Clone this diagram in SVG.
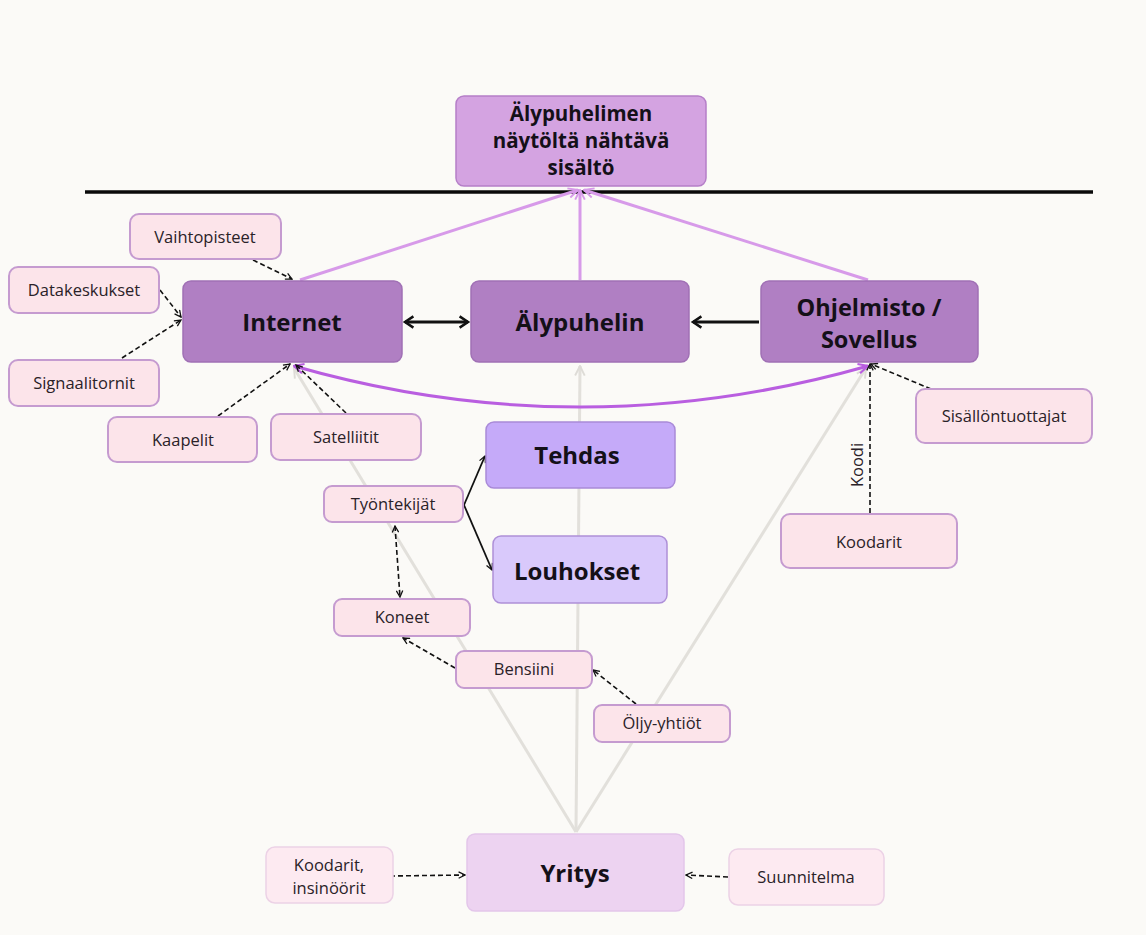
<svg xmlns="http://www.w3.org/2000/svg" width="1146" height="935" viewBox="0 0 1146 935">
<defs>
<style>
.bg{fill:#fbfaf7}
.main{fill:#b07fc3;stroke:#a070b5;stroke-width:1.5}
.small{fill:#fce4ea;stroke:#c59bd0;stroke-width:2}
.big{font-family:"Open Sans","DejaVu Sans",sans-serif;font-weight:700;fill:#141018;text-anchor:middle}
.lbl{font-family:"Open Sans","DejaVu Sans",sans-serif;font-size:16.5px;fill:#2a2228;text-anchor:middle}
.dash{fill:none;stroke:#111;stroke-width:1.6;stroke-dasharray:5,3}
.gray{fill:none;stroke:#e2e0db;stroke-width:3}
.lp{fill:none;stroke:#d79ae9;stroke-width:3}
</style>
<marker id="ad" viewBox="0 0 10 10" refX="9" refY="5" markerWidth="8" markerHeight="8" orient="auto-start-reverse" markerUnits="userSpaceOnUse"><path d="M1,1 L9,5 L1,9" fill="none" stroke="#111" stroke-width="1.6"/></marker>
<marker id="ab" viewBox="0 0 10 10" refX="8" refY="5" markerWidth="14" markerHeight="14" orient="auto-start-reverse" markerUnits="userSpaceOnUse"><path d="M2,1 L8,5 L2,9" fill="none" stroke="#111" stroke-width="1.8"/></marker>
<marker id="ag" viewBox="0 0 10 10" refX="9" refY="5" markerWidth="12" markerHeight="12" orient="auto" markerUnits="userSpaceOnUse"><path d="M1,1 L9,5 L1,9" fill="none" stroke="#dedcd7" stroke-width="1.6"/></marker>
<marker id="ap" viewBox="0 0 10 10" refX="9" refY="5" markerWidth="12" markerHeight="12" orient="auto" markerUnits="userSpaceOnUse"><path d="M1,1 L9,5 L1,9" fill="none" stroke="#d79ae9" stroke-width="1.6"/></marker>
<marker id="ac" viewBox="0 0 10 10" refX="9" refY="5" markerWidth="12" markerHeight="12" orient="auto-start-reverse" markerUnits="userSpaceOnUse"><path d="M1,1 L9,5 L1,9" fill="none" stroke="#b95ee0" stroke-width="1.8"/></marker>
</defs>
<rect class="bg" x="0" y="0" width="1146" height="935"/>
<line x1="85" y1="192" x2="1093" y2="192" stroke="#0a0a0a" stroke-width="3.5"/>

<g id="connectors">
<line class="gray" x1="576" y1="832" x2="294" y2="368" marker-end="url(#ag)"/>
<line class="gray" x1="576" y1="832" x2="580" y2="366" marker-end="url(#ag)"/>
<line class="gray" x1="576" y1="832" x2="866" y2="368" marker-end="url(#ag)"/>
<line class="lp" x1="300" y1="280" x2="578" y2="190" marker-end="url(#ap)"/>
<line class="lp" x1="580" y1="280" x2="580" y2="190" marker-end="url(#ap)"/>
<line class="lp" x1="868" y1="280" x2="584" y2="190" marker-end="url(#ap)"/>
<path d="M294,366 Q580,448 868,366" fill="none" stroke="#b95ee0" stroke-width="3" marker-start="url(#ac)" marker-end="url(#ac)"/>
<line x1="405" y1="322" x2="468" y2="322" stroke="#111" stroke-width="3" marker-start="url(#ab)" marker-end="url(#ab)"/>
<line x1="759" y1="322" x2="693" y2="322" stroke="#111" stroke-width="3" marker-end="url(#ab)"/>
<line class="dash" x1="253" y1="260" x2="292" y2="279" marker-end="url(#ad)"/>
<line class="dash" x1="160" y1="290" x2="181" y2="317" marker-end="url(#ad)"/>
<line class="dash" x1="122" y1="358" x2="181" y2="320" marker-end="url(#ad)"/>
<line class="dash" x1="218" y1="416" x2="290" y2="364" marker-end="url(#ad)"/>
<line class="dash" x1="346" y1="413" x2="296" y2="365" marker-end="url(#ad)"/>
<line class="dash" x1="931" y1="389" x2="871" y2="364" marker-end="url(#ad)"/>
<line class="dash" x1="870" y1="513" x2="870" y2="364" marker-end="url(#ad)"/>
<text class="lbl" transform="translate(863,465) rotate(-90)" font-size="15">Koodi</text>
<path d="M464,505 L485,456" fill="none" stroke="#111" stroke-width="1.8" marker-end="url(#ad)"/>
<path d="M464,505 L492,570" fill="none" stroke="#111" stroke-width="1.8" marker-end="url(#ad)"/>
<line class="dash" x1="395" y1="526" x2="400" y2="597" marker-start="url(#ad)" marker-end="url(#ad)"/>
<line class="dash" x1="455" y1="668" x2="403" y2="638" marker-end="url(#ad)"/>
<line class="dash" x1="636" y1="704" x2="593" y2="670" marker-end="url(#ad)"/>
<line class="dash" x1="390" y1="876" x2="465" y2="875" marker-end="url(#ad)"/>
<line class="dash" x1="728" y1="877" x2="686" y2="875" marker-end="url(#ad)"/>
</g>

<g id="n-top"><rect x="456" y="96" width="250" height="90" rx="8" fill="#d4a3e1" stroke="#b57fc8" stroke-width="1.5"/>
<text class="big" x="581" y="121" font-size="20.5">Älypuhelimen</text><text class="big" x="581" y="148" font-size="20.5">näytöltä nähtävä</text><text class="big" x="581" y="175" font-size="20.5">sisältö</text></g>
<g id="n-internet"><rect class="main" x="183" y="281" width="219" height="81" rx="8"/><text class="big" x="292" y="331" font-size="24">Internet</text></g>
<g id="n-alypuhelin"><rect class="main" x="471" y="281" width="218" height="81" rx="8"/><text class="big" x="580" y="331" font-size="24">Älypuhelin</text></g>
<g id="n-ohjelmisto"><rect class="main" x="761" y="281" width="217" height="81" rx="8"/><text class="big" x="869" y="316" font-size="23.5">Ohjelmisto /</text><text class="big" x="869" y="348" font-size="23.5">Sovellus</text></g>
<g id="n-vaihtopisteet"><rect class="small" x="130" y="214" width="151" height="45" rx="9"/><text class="lbl" x="205" y="243">Vaihtopisteet</text></g>
<g id="n-datakeskukset"><rect class="small" x="9" y="267" width="150" height="46" rx="9"/><text class="lbl" x="84" y="296">Datakeskukset</text></g>
<g id="n-signaalitornit"><rect class="small" x="9" y="360" width="150" height="46" rx="9"/><text class="lbl" x="84" y="389">Signaalitornit</text></g>
<g id="n-kaapelit"><rect class="small" x="108" y="417" width="149" height="45" rx="9"/><text class="lbl" x="183" y="446">Kaapelit</text></g>
<g id="n-satelliitit"><rect class="small" x="271" y="414" width="150" height="46" rx="9"/><text class="lbl" x="346" y="443">Satelliitit</text></g>
<g id="n-tehdas"><rect x="486" y="422" width="189" height="66" rx="8" fill="#c5aaf9" stroke="#a98ad8" stroke-width="1.5"/><text class="big" x="577" y="464" font-size="24">Tehdas</text></g>
<g id="n-louhokset"><rect x="493" y="536" width="174" height="67" rx="8" fill="#d9c9fb" stroke="#ae90d8" stroke-width="1.5"/><text class="big" x="577" y="580" font-size="24">Louhokset</text></g>
<g id="n-tyontekijat"><rect class="small" x="324" y="486" width="139" height="36" rx="8"/><text class="lbl" x="393" y="510">Työntekijät</text></g>
<g id="n-koneet"><rect class="small" x="334" y="599" width="136" height="37" rx="8"/><text class="lbl" x="402" y="623">Koneet</text></g>
<g id="n-bensiini"><rect class="small" x="456" y="651" width="136" height="37" rx="8"/><text class="lbl" x="524" y="675">Bensiini</text></g>
<g id="n-oljy"><rect class="small" x="594" y="705" width="136" height="37" rx="8"/><text class="lbl" x="662" y="729">Öljy-yhtiöt</text></g>
<g id="n-sisallontuottajat"><rect class="small" x="916" y="389" width="176" height="54" rx="9"/><text class="lbl" x="1004" y="422">Sisällöntuottajat</text></g>
<g id="n-koodarit"><rect class="small" x="781" y="514" width="176" height="54" rx="9"/><text class="lbl" x="869" y="548">Koodarit</text></g>
<g id="n-yritys"><rect x="467" y="834" width="217" height="77" rx="8" fill="#edd3f1" stroke="#e3c6ea" stroke-width="1.5"/><text class="big" x="575" y="882" font-size="24">Yritys</text></g>
<g id="n-koodarit-insinoorit"><rect x="266" y="847" width="127" height="56" rx="9" fill="#fdeaf1" stroke="#ecd2e6" stroke-width="1.5"/><text class="lbl" x="329" y="871">Koodarit,</text><text class="lbl" x="329" y="894">insinöörit</text></g>
<g id="n-suunnitelma"><rect x="729" y="849" width="155" height="56" rx="9" fill="#fdeaf1" stroke="#ecd2e6" stroke-width="1.5"/><text class="lbl" x="806" y="883">Suunnitelma</text></g>
</svg>
